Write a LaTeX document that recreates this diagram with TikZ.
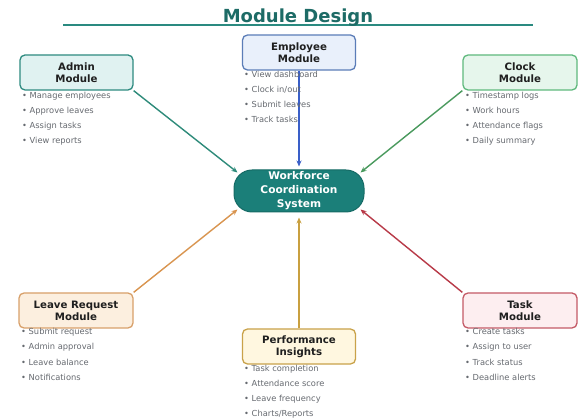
\documentclass[tikz,border=0pt]{standalone}
\usepackage{fontspec}
\setmainfont{DejaVu Sans}
\usetikzlibrary{arrows.meta}

\definecolor{titlecol}{HTML}{1D6B66}
\definecolor{rulecol}{HTML}{2A8A80}
\definecolor{hubfill}{HTML}{1B7F79}
\definecolor{hubdraw}{HTML}{156A65}
\definecolor{itemcol}{HTML}{666A70}
% module palettes: fill, border, connector
\definecolor{admF}{HTML}{E0F2F1}\definecolor{admD}{HTML}{2E8B80}\definecolor{admA}{HTML}{2E8B7A}
\definecolor{empF}{HTML}{E9F0FB}\definecolor{empD}{HTML}{5B7DB8}\definecolor{empA}{HTML}{3A5FC8}
\definecolor{clkF}{HTML}{E6F6EC}\definecolor{clkD}{HTML}{5FB97D}\definecolor{clkA}{HTML}{4A9A5E}
\definecolor{lvF}{HTML}{FCEFDF}\definecolor{lvD}{HTML}{D8A06A}\definecolor{lvA}{HTML}{D99550}
\definecolor{prfF}{HTML}{FFF7E0}\definecolor{prfD}{HTML}{C9A24A}\definecolor{prfA}{HTML}{C9A040}
\definecolor{tskF}{HTML}{FDEEF0}\definecolor{tskD}{HTML}{C45A66}\definecolor{tskA}{HTML}{B83A48}

\tikzset{
  modbox/.style={rectangle, rounded corners=5pt, line width=1.3pt,
    minimum width=113pt, minimum height=35pt, inner sep=0pt, align=center,
    text=black!88, font=\fontsize{10.2}{12}\selectfont\bfseries},
  hub/.style={rectangle, rounded corners=18pt, fill=hubfill, draw=hubdraw, line width=1pt,
    minimum width=130pt, minimum height=42pt, inner sep=0pt, align=center,
    text=white, font=\fontsize{10.6}{14}\selectfont\bfseries},
  itemtext/.style={anchor=base west, inner sep=0pt, text=itemcol,
    font=\fontsize{8.3}{10}\selectfont},
  link/.style={line width=1.4pt, -{Stealth[length=6pt,width=5pt]}},
}

\begin{document}
\begin{tikzpicture}[x=1pt,y=-1pt]
  \useasboundingbox[fill=white] (0,0) rectangle (578,419);

  % heading and its rule
  \coordinate (ruleL) at (63,25);
  \coordinate (ruleR) at (533,25);
  \draw[rulecol, line width=2pt] (ruleL) -- (ruleR);
  \node[name=heading, anchor=base, inner sep=0pt, text=titlecol,
        font=\fontsize{18}{20}\selectfont\bfseries] at (298,23) {Module Design};

  % central hub
  \node[hub] (hubnode) at (299,191) {Workforce\\Coordination\\System};

  % docking points on the hub's rounded outline
  \coordinate (hubNW) at ([shift={(4,3)}]hubnode.north west);
  \coordinate (hubNE) at ([shift={(-4,3)}]hubnode.north east);
  \coordinate (hubSW) at ([shift={(4,-3)}]hubnode.south west);
  \coordinate (hubSE) at ([shift={(-4,-3)}]hubnode.south east);
  \coordinate (hubN) at ([shift={(0,-3)}]hubnode.north);
  \coordinate (hubS) at ([shift={(0,5)}]hubnode.south);

  % modules
  \node[modbox, fill=admF, draw=admD] (admin) at (76.5,72.5) {Admin\\Module};
  \node[modbox, fill=empF, draw=empD] (employee) at (299,52.5) {Employee\\Module};
  \node[modbox, fill=clkF, draw=clkD, minimum width=114pt] (clock) at (520,72.5) {Clock\\Module};
  \node[modbox, fill=lvF, draw=lvD, minimum width=114pt] (leave) at (76,310.5) {Leave Request\\Module};
  \node[modbox, fill=tskF, draw=tskD, minimum width=114pt] (task) at (520,310.5) {Task\\Module};
  \node[modbox, fill=prfF, draw=prfD] (perf) at (299,346.5) {Performance\\Insights};

  % connectors into the hub
  \draw[link, admA] (admin.south east) -- (hubNW);
  \draw[link, empA] (employee.south) -- (hubN);
  \draw[link, clkA] (clock.south west) -- (hubNE);
  \draw[link, lvA] (leave.north east) -- (hubSW);
  \draw[link, prfA] (perf.north) -- (hubS);
  \draw[link, tskA] (task.north west) -- (hubSE);

  % feature lists under each module
  \foreach \t [count=\i] in {Manage employees, Approve leaves, Assign tasks, View reports}
    \node[itemtext, name=adm-\i] at (22, 84+15*\i) {• \t};
  \foreach \t [count=\i] in {View dashboard, Clock in/out, Submit leaves, Track tasks}
    \node[itemtext, name=emp-\i] at (244, 63+15*\i) {• \t};
  \foreach \t [count=\i] in {Timestamp logs, Work hours, Attendance flags, Daily summary}
    \node[itemtext, name=clk-\i] at (465, 84+15*\i) {• \t};
  \foreach \t [count=\i] in {Submit request, Admin approval, Leave balance, Notifications}
    \node[itemtext, name=lv-\i] at (21, 320+15*\i) {• \t};
  \foreach \t [count=\i] in {Create tasks, Assign to user, Track status, Deadline alerts}
    \node[itemtext, name=tsk-\i] at (465, 320+15*\i) {• \t};
  \foreach \t [count=\i] in {Task completion, Attendance score, Leave frequency, Charts/Reports}
    \node[itemtext, name=prf-\i] at (244, 356+15.2*\i) {• \t};
\end{tikzpicture}
\end{document}
